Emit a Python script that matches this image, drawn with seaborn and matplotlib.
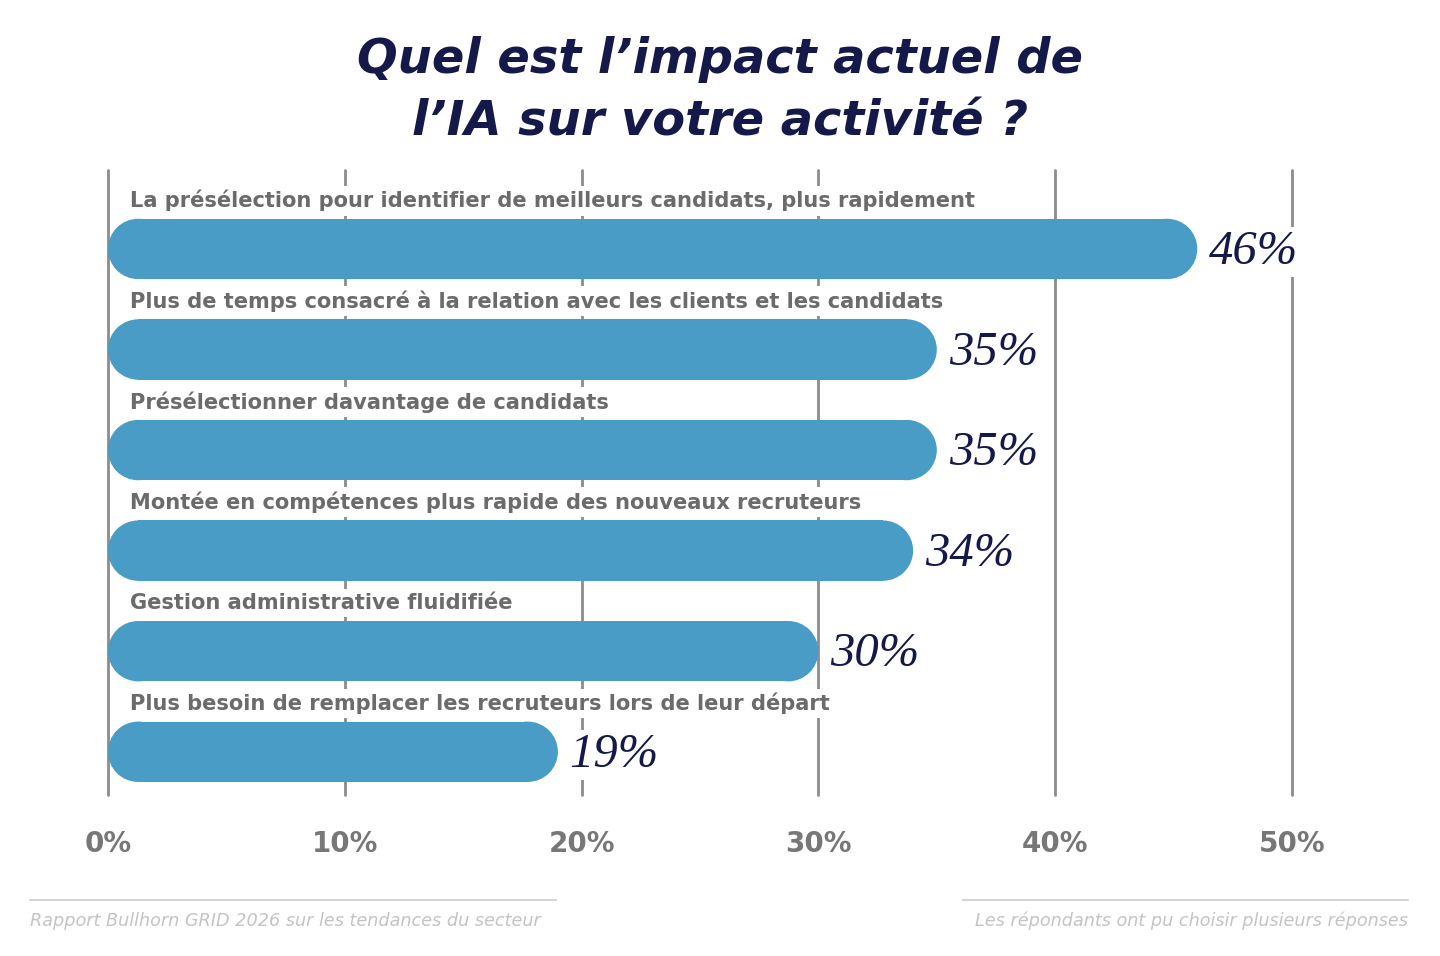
import matplotlib.pyplot as plt
import seaborn as sns
from matplotlib.patches import Ellipse
from matplotlib.lines import Line2D

# data
categories = [
    "La présélection pour identifier de meilleurs candidats, plus rapidement",
    "Plus de temps consacré à la relation avec les clients et les candidats",
    "Présélectionner davantage de candidats",
    "Montée en compétences plus rapide des nouveaux recruteurs",
    "Gestion administrative fluidifiée",
    "Plus besoin de remplacer les recruteurs lors de leur départ",
]
values = [46, 35, 35, 34, 30, 19]
ticks = [0, 10, 20, 30, 40, 50]
tick_labels = ["0%", "10%", "20%", "30%", "40%", "50%"]

title = "Quel est l’impact actuel de\nl’IA sur votre activité ?"
source = "Rapport Bullhorn GRID 2026 sur les tendances du secteur"
note = "Les répondants ont pu choisir plusieurs réponses"

bar_col = "#489cc5"
navy = "#15194a"
grey = "#6b6b6b"

sns.set_style("white")
fig = plt.figure(figsize=(14.4, 9.56), dpi=100)
ax = fig.add_axes([108 / 1440, 1 - 795 / 956, 1184 / 1440, 625 / 956])

sns.barplot(x=values, y=categories, orient="h", color=bar_col, width=0.6,
            saturation=1, ax=ax, zorder=2)
ax.set_xlim(0, 50)
ax.set_ylim(5.43, -0.785)

# turn bars into pills: shorten rectangle, add half-circle caps
px = ax.bbox.width / 50
py = ax.bbox.height / (5.43 + 0.785)
for p in list(ax.patches):
    x, y, w, h = p.get_x(), p.get_y(), p.get_width(), p.get_height()
    r = h * py / px / 2
    p.set_x(x + r)
    p.set_width(w - 2 * r)
    p.set_edgecolor("none")
    for cx in (x + r, x + w - r):
        ax.add_patch(Ellipse((cx, y + h / 2), 2 * r, h, fc=bar_col,
                             ec="none", zorder=2))

for t in ticks:
    ax.axvline(t, color="#8c8c8c", lw=2, zorder=0, clip_on=False)

sns.despine(ax=ax, left=True, bottom=True)
ax.set_yticks([])
ax.set_xticks(ticks)
ax.set_xticklabels(tick_labels, fontsize=20, fontweight="bold", color="#777777")
ax.tick_params(axis="x", length=0, pad=25)
ax.set_xlabel("")
ax.set_ylabel("")

for i, (cat, v) in enumerate(zip(categories, values)):
    ax.text(0.93, i - 0.48, cat, va="center", ha="left", fontsize=15.1,
            fontweight="bold", color=grey, zorder=3,
            bbox=dict(fc="white", ec="none", pad=3))
    ax.text(v + 0.5, i + 0.03, f"{v}%", va="center", ha="left",
            fontsize=35, style="italic", family="Liberation Serif", color=navy,
            zorder=3, bbox=dict(fc="white", ec="none", pad=2))

fig.text(0.5, 1 - 91 / 956, title, ha="center", va="center", fontsize=34.5,
         fontweight="heavy", style="italic", color=navy, linespacing=1.43)

fig.add_artist(Line2D([30 / 1440, 556 / 1440], [1 - 900 / 956] * 2,
                      color="#d4d4d4", lw=1.5))
fig.add_artist(Line2D([963 / 1440, 1408 / 1440], [1 - 900 / 956] * 2,
                      color="#d4d4d4", lw=1.5))
fig.text(30 / 1440, 1 - 921 / 956, source, ha="left", va="center",
         fontsize=12.7, style="italic", color="#c4c4c4")
fig.text(1408 / 1440, 1 - 921 / 956, note, ha="right", va="center",
         fontsize=12.7, style="italic", color="#c4c4c4")

fig.savefig("out.png", dpi=100)
